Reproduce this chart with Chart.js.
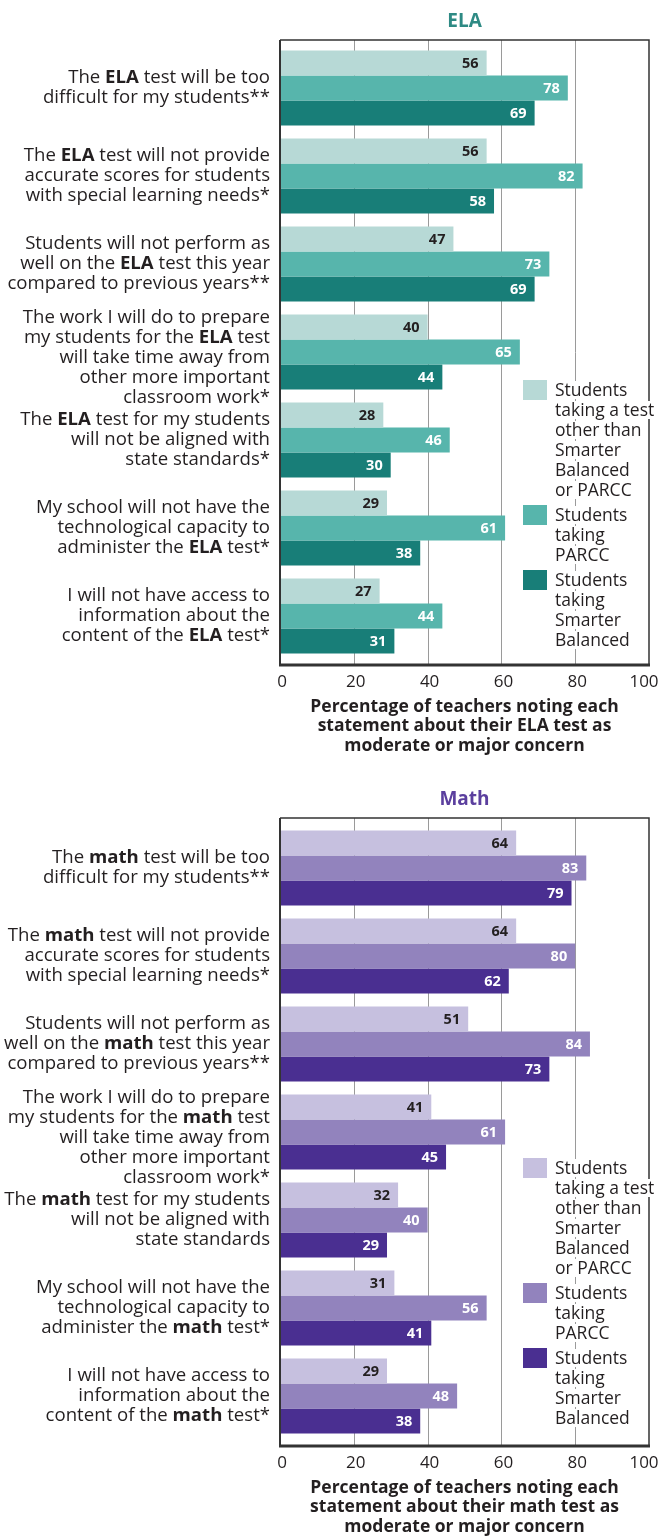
<!DOCTYPE html>
<html>
<head>
<meta charset="utf-8">
<script src="https://cdn.jsdelivr.net/npm/chart.js@4.4.0/dist/chart.umd.min.js"></script>
<style>
  body { margin: 0; background: #fff; width: 661px; height: 1537px; overflow: hidden; position: relative; }
  canvas { position: absolute; left: 0; }
</style>
</head>
<body>
<canvas id="ela" width="661" height="770" style="top:0"></canvas>
<canvas id="math" width="661" height="767" style="top:770px"></canvas>
<script>
// words between | are drawn bold
const elaCategories = [
  "The |ELA| test will be too\ndifficult for my students**",
  "The |ELA| test will not provide\naccurate scores for students\nwith special learning needs*",
  "Students will not perform as\nwell on the |ELA| test this year\ncompared to previous years**",
  "The work I will do to prepare\nmy students for the |ELA| test\nwill take time away from\nother more important\nclassroom work*",
  "The |ELA| test for my students\nwill not be aligned with\nstate standards*",
  "My school will not have the\ntechnological capacity to\nadminister the |ELA| test*",
  "I will not have access to\ninformation about the\ncontent of the |ELA| test*"
];
const mathCategories = [
  "The |math| test will be too\ndifficult for my students**",
  "The |math| test will not provide\naccurate scores for students\nwith special learning needs*",
  "Students will not perform as\nwell on the |math| test this year\ncompared to previous years**",
  "The work I will do to prepare\nmy students for the |math| test\nwill take time away from\nother more important\nclassroom work*",
  "The |math| test for my students\nwill not be aligned with\nstate standards",
  "My school will not have the\ntechnological capacity to\nadminister the |math| test*",
  "I will not have access to\ninformation about the\ncontent of the |math| test*"
];
const seriesNames = [
  "Students\ntaking a test\nother than\nSmarter\nBalanced\nor PARCC",
  "Students\ntaking\nPARCC",
  "Students\ntaking\nSmarter\nBalanced"
];
const elaOther = [56, 56, 47, 40, 28, 29, 27];
const elaParcc = [78, 82, 73, 65, 46, 61, 44];
const elaSmarter = [69, 58, 69, 44, 30, 38, 31];
const mathOther = [64, 64, 51, 41, 32, 31, 29];
const mathParcc = [83, 80, 84, 61, 40, 56, 48];
const mathSmarter = [79, 62, 73, 45, 29, 41, 38];
const xTicks = [0, 20, 40, 60, 80, 100];

const FONT = "'Open Sans', sans-serif";
const TEXT = "#231f20";

const decor = {
  id: "decor",
  beforeDatasetsDraw(chart, args, o) {
    const ctx = chart.ctx, x = chart.scales.x;
    ctx.save();
    ctx.strokeStyle = "#9a9a9a";
    ctx.lineWidth = 1;
    xTicks.slice(1, -1).forEach(v => {
      const px = Math.round(x.getPixelForValue(v)) + 0.5;
      ctx.beginPath();
      ctx.moveTo(px, o.frameTop);
      ctx.lineTo(px, o.frameBottom);
      ctx.stroke();
    });
    ctx.restore();
  },
  afterDatasetsDraw(chart, args, o) {
    const ctx = chart.ctx, x = chart.scales.x, y = chart.scales.y;
    const left = x.getPixelForValue(0), right = x.getPixelForValue(100);
    ctx.save();

    // values inside bars
    ctx.font = "bold 14.5px " + FONT;
    ctx.textAlign = "right";
    ctx.textBaseline = "middle";
    chart.data.datasets.forEach((ds, i) => {
      chart.getDatasetMeta(i).data.forEach((bar, j) => {
        ctx.fillStyle = i === 0 ? TEXT : "#ffffff";
        ctx.fillText(ds.data[j], bar.x - 8, bar.y + 1);
      });
    });

    // frame
    ctx.strokeStyle = "#333333";
    ctx.lineWidth = 1.5;
    ctx.beginPath();
    ctx.moveTo(left, o.frameTop);
    ctx.lineTo(right, o.frameTop);
    ctx.lineTo(right, o.frameBottom);
    ctx.stroke();
    ctx.lineWidth = 2;
    ctx.beginPath();
    ctx.moveTo(left, o.frameTop);
    ctx.lineTo(left, o.frameBottom);
    ctx.stroke();
    ctx.lineWidth = 3;
    ctx.beginPath();
    ctx.moveTo(left - 1, o.frameBottom);
    ctx.lineTo(right + 1, o.frameBottom);
    ctx.stroke();

    // tick labels
    ctx.font = "17px " + FONT;
    ctx.textAlign = "center";
    ctx.fillStyle = TEXT;
    xTicks.forEach((v, i) => {
      const shift = i === xTicks.length - 1 ? -5 : 2;
      ctx.fillText(String(v), x.getPixelForValue(v) + shift, o.frameBottom + 17);
    });

    // axis title
    ctx.font = "bold 17.5px " + FONT;
    o.axisTitle.forEach((line, k) => {
      ctx.fillText(line, (left + right) / 2, o.frameBottom + 42 + k * 19.5);
    });

    // panel title
    ctx.font = "bold 19px " + FONT;
    ctx.fillStyle = o.titleColor;
    ctx.fillText(o.title, (left + right) / 2, o.frameTop - 18);

    // category labels, right aligned left of the plot
    const lineH = 20;
    chart.data.labels.forEach((lab, i) => {
      const lines = lab.split("\n");
      const cy = y.getPixelForValue(i) + (lines.length > 4 ? 6 : 0);
      lines.forEach((line, k) => {
        const ly = cy + (k - (lines.length - 1) / 2) * lineH;
        const parts = line.split("|");
        let w = 0;
        parts.forEach((p, n) => {
          ctx.font = (n % 2 ? "bold " : "") + "18.6px " + FONT;
          w += ctx.measureText(p).width;
        });
        let px = 270 - w;
        ctx.textAlign = "left";
        ctx.fillStyle = TEXT;
        parts.forEach((p, n) => {
          ctx.font = (n % 2 ? "bold " : "") + "18.6px " + FONT;
          ctx.fillText(p, px, ly);
          px += ctx.measureText(p).width;
        });
      });
    });

    // legend
    const boxTops = [340, 465, 530];
    ctx.font = "17.5px " + FONT;
    ctx.textAlign = "left";
    chart.data.datasets.forEach((ds, i) => {
      const top = o.frameTop + boxTops[i];
      ctx.fillStyle = ds.backgroundColor;
      ctx.fillRect(523, top, 24, 20);
      ds.label.split("\n").forEach((line, k) => {
        const ly = top + 10 + k * 20;
        const w = ctx.measureText(line).width;
        ctx.fillStyle = "#ffffff";
        ctx.fillRect(553, ly - 9, w + 4, 18);
        ctx.fillStyle = TEXT;
        ctx.fillText(line, 555, ly + 1);
      });
    });
    ctx.restore();
  }
};

function makeChart(id, p) {
  return new Chart(document.getElementById(id), {
    type: "bar",
    data: {
      labels: p.categories,
      datasets: p.values.map((vals, i) => ({
        label: seriesNames[i],
        data: vals,
        backgroundColor: p.colors[i],
        borderWidth: 0,
        categoryPercentage: 0.852,
        barPercentage: 1
      }))
    },
    options: {
      indexAxis: "y",
      responsive: false,
      animation: false,
      layout: { padding: { left: 280, right: 12, top: p.areaTop, bottom: p.canvasH - p.areaBottom } },
      scales: {
        y: { display: false },
        x: { display: false, min: 0, max: 100 }
      },
      plugins: {
        legend: { display: false },
        tooltip: { enabled: false },
        decor: {
          frameTop: p.frameTop, frameBottom: p.frameBottom, title: p.title, titleColor: p.titleColor,
          axisTitle: ["Percentage of teachers noting each",
                      "statement about their " + p.subject + " test as",
                      "moderate or major concern"]
        }
      }
    },
    plugins: [decor]
  });
}

makeChart("ela", {
  categories: elaCategories,
  values: [elaOther, elaParcc, elaSmarter],
  colors: ["#b7d9d6", "#57b5ac", "#187e78"],
  subject: "ELA", title: "ELA", titleColor: "#2e8a84",
  canvasH: 770, areaTop: 44, areaBottom: 660,
  frameTop: 40, frameBottom: 665
});

makeChart("math", {
  categories: mathCategories,
  values: [mathOther, mathParcc, mathSmarter],
  colors: ["#c6c0df", "#9283bd", "#4a2f91"],
  subject: "math", title: "Math", titleColor: "#5b3f9e",
  canvasH: 767, areaTop: 54, areaBottom: 670,
  frameTop: 48, frameBottom: 676
});
</script>
</body>
</html>
